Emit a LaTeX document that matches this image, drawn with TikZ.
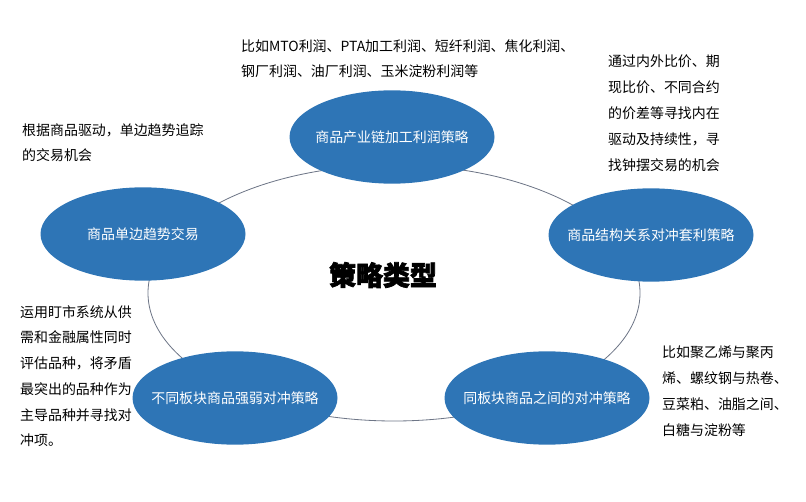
\documentclass[tikz,border=0pt]{standalone}
\usepackage{fontspec}
\newfontfamily\cjk{Noto Sans CJK SC}
\newfontfamily\cjktitle[FakeBold=2.5]{Noto Sans CJK SC}
\usetikzlibrary{shapes.geometric,positioning}
\definecolor{stratblue}{RGB}{46,117,182}
\definecolor{ringgray}{RGB}{110,118,135}

\begin{document}
\begin{tikzpicture}[x=0.3mm, y=-0.3mm,
    strat/.style={ellipse, fill=stratblue, inner sep=0pt,
      minimum width=6.15cm, minimum height=2.8cm},
    stratname/.style={text=white, font=\cjk\fontsize{11.9}{14}\selectfont},
    note/.style={anchor=north west, inner sep=0pt, align=left,
      font=\cjk\fontsize{11.9}{22}\selectfont}]

    \useasboundingbox (0,0) rectangle (806,502);

    % 背景环
    \draw[ringgray, line width=0.7pt] (394,293) ellipse [x radius=7.38cm, y radius=3.84cm];

    % 中心标题
    \node[font=\cjktitle\bfseries\fontsize{23}{26}\selectfont] (title) at (383,275) {策略类型};

    % 五种策略
    \node[strat, label={[stratname]center:商品产业链加工利润策略}] (chain) at (392,137) {};
    \node[strat, label={[stratname]center:商品单边趋势交易}] (trend) at (143,234) {};
    \node[strat, label={[stratname]center:商品结构关系对冲套利策略}] (struct) at (651,235) {};
    \node[strat, label={[stratname]center:不同板块商品强弱对冲策略}] (cross) at (235,398) {};
    \node[strat, label={[stratname]center:同板块商品之间的对冲策略}] (same) at (547,398) {};

    % 说明文字
    \node[note] (chainnote) at (241,39) {比如MTO利润、PTA加工利润、短纤利润、焦化利润、\\钢厂利润、油厂利润、玉米淀粉利润等};
    \node[note] (trendnote) at (22,123) {根据商品驱动，单边趋势追踪\\的交易机会};
    \node[note] (structnote) at (608,55) {通过内外比价、期\\现比价、不同合约\\的价差等寻找内在\\驱动及持续性，寻\\找钟摆交易的机会};
    \node[note] (crossnote) at (20,305) {运用盯市系统从供\\需和金融属性同时\\评估品种，将矛盾\\最突出的品种作为\\主导品种并寻找对\\冲项。};
    \node[note] (samenote) at (662,346) {比如聚乙烯与聚丙\\烯、螺纹钢与热卷、\\豆菜粕、油脂之间、\\白糖与淀粉等};
\end{tikzpicture}
\end{document}
